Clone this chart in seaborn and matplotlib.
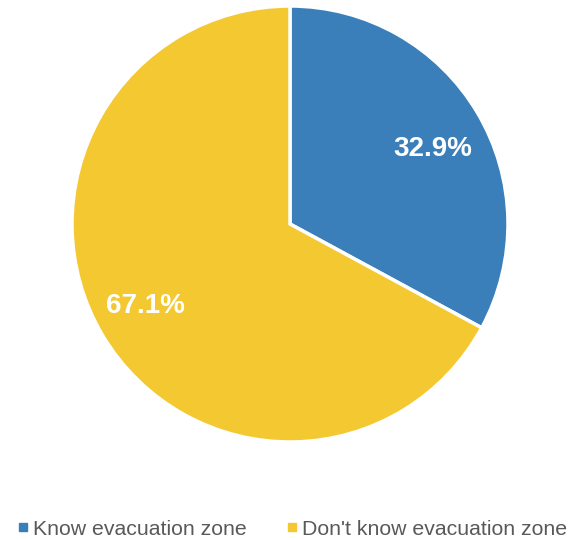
import matplotlib
matplotlib.use("Agg")
import matplotlib.pyplot as plt
import seaborn as sns
from matplotlib.lines import Line2D

labels = ["Know evacuation zone", "Don't know evacuation zone"]
values = [32.9, 67.1]
colors = ["#3A7FBA", "#F4C831"]

sns.set_theme(style="white")
plt.rcParams['font.family'] = ['Liberation Sans', 'DejaVu Sans']

fig = plt.figure(figsize=(5.77, 5.40), dpi=100)
ax = fig.add_axes([0.1248, 0.1815, 0.7556, 0.8074])
wedges, texts, autotexts = ax.pie(
    values, colors=colors, startangle=90, counterclock=False,
    autopct="%.1f%%", pctdistance=0.76,
    wedgeprops=dict(edgecolor="white", linewidth=2.5),
    textprops=dict(color="white", fontsize=20, fontweight="bold"))
# small nudges so the labels sit like in the original
x, y = autotexts[0].get_position()
autotexts[0].set_position((x, y - 0.045))
x, y = autotexts[1].get_position()
autotexts[1].set_position((x - 0.01, y + 0.012))
ax.set_xlim(-1, 1)
ax.set_ylim(-1, 1)
ax.set_aspect("equal")

handles = [Line2D([0], [0], marker="s", linestyle="", markersize=5.5,
                  markerfacecolor=c, markeredgecolor=c) for c in colors]
fig.legend(handles, labels, loc="center left", bbox_to_anchor=(0.03, 0.02),
           ncol=2, frameon=False, fontsize=15.3, labelcolor="#595959",
           handletextpad=0.2, columnspacing=1.85, handlelength=0.55,
           borderpad=0, borderaxespad=0)

fig.savefig("out.png", dpi=100)
